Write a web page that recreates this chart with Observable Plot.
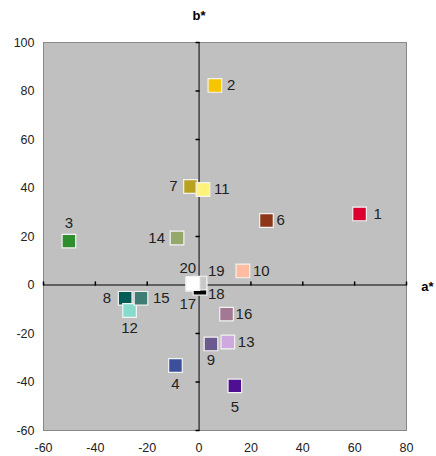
<!DOCTYPE html>
<html>
<head>
<meta charset="utf-8">
<script src="https://cdn.jsdelivr.net/npm/d3@7"></script>
<script src="https://cdn.jsdelivr.net/npm/@observablehq/plot@0.6"></script>
<style>
  html, body { margin: 0; padding: 0; background: #fff; }
  #chart { width: 436px; height: 456px; }
</style>
</head>
<body>
<div id="chart"></div>
<script>
// Data (CIELAB a*, b* coordinates)
const ids    = ["1","2","3","4","5","6","7","8","9","10","11","12","13","14","15","16","17","18","19","20"];
const aStar  = [61.9, 6.1, -50.2, -9.1, 13.8, 26.0, -3.3, -28.5, 4.6, 16.9, 1.5, -26.8, 11.1, -8.5, -22.4, 10.6, -2.4, 0.35, 0.35, -2.4];
const bStar  = [29.3, 82.3, 18.1, -33.2, -41.6, 26.6, 40.6, -5.5, -24.3, 5.8, 39.4, -10.5, -23.5, 19.4, -5.5, -12.0, 0.3, -1.4, 0.8, 0.6];
const colors = ["#dc0030","#f7c600","#2f8f2f","#3b4f9b","#4e0f92","#8e3618","#b8a21e","#005c55","#6b5a90","#ffbca0",
                "#fff27a","#86dccc","#cfa8e0","#95a86a","#3e7c74","#a37892","#ffffff","#000000","#c8c8c8","#ffffff"];
const xTicks = [-60, -40, -20, 0, 20, 40, 60, 80];
const yTicks = [-60, -40, -20, 0, 20, 40, 60, 80, 100];

const points = ids.map((id, i) => ({id, a: aStar[i], b: bStar[i], color: colors[i]}));

// label placement (dx, dy, textAnchor) per point id
const labelPlacement = {
  "1": [14, 0, "start"], "2": [12, 0, "start"], "3": [0, -18, "middle"], "4": [0, 19, "middle"],
  "5": [0, 21, "middle"], "6": [10, 0, "start"], "7": [-13, 0, "end"], "8": [-14, 0, "end"],
  "9": [0, 16, "middle"], "10": [10, 0, "start"], "11": [11, 0, "start"], "12": [0, 18, "middle"],
  "13": [10, 0, "start"], "14": [-12, 0, "end"], "15": [12, 0, "start"], "16": [9, 0, "start"],
  "17": [-5, 20, "middle"], "18": [8, 6, "start"], "19": [8, -12, "start"], "20": [-5, -15, "middle"]
};

const tickShape = { draw(context, l) { context.moveTo(0, 0); context.lineTo(0, -l); } };
const fmt = d => String(d);

const labelMarks = points.map(p => {
  const [dx, dy, anchor] = labelPlacement[p.id];
  return Plot.text([p], {x: "a", y: "b", text: "id", dx, dy, textAnchor: anchor,
    fontSize: 15, fill: "#222"});
});

const chart = Plot.plot({
  width: 436,
  height: 456,
  marginLeft: 43,
  marginRight: 30,
  marginTop: 42,
  marginBottom: 26,
  style: {fontFamily: "'Liberation Sans', Arial, sans-serif", background: "#fff", overflow: "visible"},
  x: {domain: [-60, 80], ticks: xTicks},
  y: {domain: [-60, 100], ticks: yTicks},
  marks: [
    Plot.frame({fill: "#c0c0c0", stroke: "#888", strokeWidth: 1}),
    Plot.axisX({ticks: xTicks, tickFormat: fmt, tickSize: 0, tickPadding: 13, fontSize: 12.5, label: null, fill: "#222"}),
    Plot.axisY({ticks: yTicks, tickFormat: fmt, tickSize: 0, tickPadding: 9, fontSize: 12.5, label: null, fill: "#222"}),
    Plot.ruleX([0], {stroke: "#000", strokeWidth: 1}),
    Plot.ruleY([0], {stroke: "#000", strokeWidth: 1}),
    Plot.vector(xTicks.filter(d => d !== 0), {x: d => d, y: 0, length: 3, rotate: 0, anchor: "start", shape: tickShape, stroke: "#000"}),
    Plot.vector(yTicks.filter(d => d !== 0), {x: 0, y: d => d, length: 3, rotate: -90, anchor: "start", shape: tickShape, stroke: "#000"}),
    Plot.dot(points, {x: "a", y: "b", symbol: "square", r: 7.7, fill: "color", stroke: "#f2f2f2", strokeWidth: 1.2}),
    ...labelMarks,
    Plot.text(["b*"], {x: 0, y: 100, text: d => d, dy: -27, fontSize: 13, fontWeight: "bold", fill: "#000"}),
    Plot.text(["a*"], {x: 80, y: 0, text: d => d, dx: 21, dy: 2, fontSize: 13, fontWeight: "bold", fill: "#000"})
  ]
});

document.getElementById("chart").appendChild(chart);
</script>
</body>
</html>
